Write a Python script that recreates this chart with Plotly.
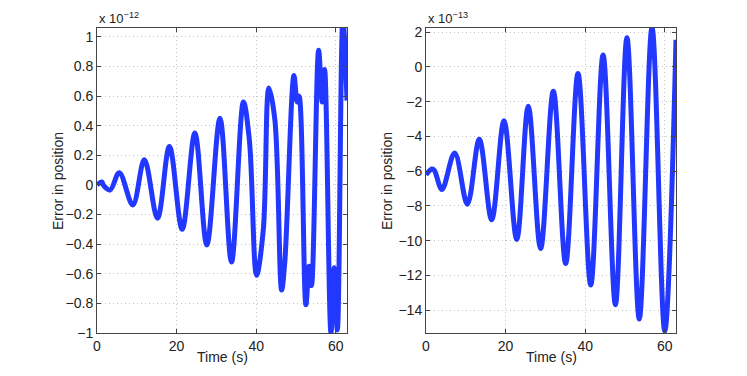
import plotly.graph_objects as go

# left panel: error in position (x 1e-12)
t_left = [0, 1.2, 1.7, 3.3, 5.6, 9.0, 11.9, 15.2, 18.2, 21.4, 24.6, 27.6, 30.9,
          33.8, 36.8, 38.3, 40.1, 41.8, 43.2, 44.7, 46.4, 47.2, 49.5, 50.3, 50.8,
          52.5, 53.3, 53.9, 55.7, 56.6, 57.2, 58.8, 59.6, 60.4, 61.8, 62.83]
err_left = [0, 0.02, -0.005, -0.034, 0.083, -0.135, 0.17, -0.225, 0.26, -0.30, 0.35,
            -0.405, 0.45, -0.52, 0.56, 0.30, -0.61, -0.30, 0.655, 0.44, -0.71, -0.52,
            0.74, 0.56, 0.60, -0.81, -0.55, -0.68, 0.91, 0.56, 0.78, -1.0, -0.56,
            -0.98, 1.12, 0.57]

# right panel: error in position (x 1e-13)
t_right = [0, 1.5, 2.1, 4.0, 7.2, 10.4, 13.4, 16.5, 19.6, 22.8, 25.7, 28.8, 32.0,
           35.1, 38.2, 41.4, 44.5, 47.6, 50.5, 53.6, 56.8, 60.0, 62.83]
err_right = [-6.2, -5.87, -5.95, -7.05, -4.96, -7.9, -4.17, -8.79, -3.1, -9.93,
             -2.27, -10.45, -1.4, -11.3, -0.38, -12.54, 0.68, -13.67, 1.67, -14.5,
             2.25, -15.2, 1.55]

x_ticks = [0, 20, 40, 60]
y_ticks_left = [-1, -0.8, -0.6, -0.4, -0.2, 0, 0.2, 0.4, 0.6, 0.8, 1]
y_ticks_right = [-14, -12, -10, -8, -6, -4, -2, 0, 2]

# the page body has an 8px margin, so the figure is shrunk by that much
OFF = 8
W, H = 747 - OFF, 376 - OFF

def px(x):
    return (x - OFF) / W

def py(y):
    return 1 - (y - OFF) / H

line_col = '#2238ff'
font = dict(family='Liberation Sans, Arial, sans-serif', size=14, color='#222')
small = dict(font, size=13)

fig = go.Figure()
fig.add_trace(go.Scatter(x=t_left, y=err_left, mode='lines', line_shape='spline',
                         line=dict(color=line_col, width=5), xaxis='x', yaxis='y',
                         showlegend=False))
fig.add_trace(go.Scatter(x=t_right, y=err_right, mode='lines', line_shape='spline',
                         line=dict(color=line_col, width=5), xaxis='x2', yaxis='y2',
                         showlegend=False))

ax = dict(showline=True, mirror='ticks', linecolor='#444', linewidth=1,
          ticks='inside', ticklen=4, tickcolor='#444', showgrid=True,
          gridcolor='#c4c4c4', griddash='1px,3px', gridwidth=1, zeroline=False,
          tickfont=font, automargin=False)

y0, y1 = py(333), py(28)
panels = [(97, 347), (426, 676)]
fig.update_layout(
    width=W, height=H, margin=dict(l=0, r=0, t=0, b=0),
    paper_bgcolor='white', plot_bgcolor='white', font=font,
    xaxis=dict(ax, domain=[px(97), px(347)], range=[0, 62.83], tickvals=x_ticks, anchor='y'),
    yaxis=dict(ax, domain=[y0, y1], range=[-1, 1.06], tickvals=y_ticks_left, anchor='x'),
    xaxis2=dict(ax, domain=[px(426), px(676)], range=[0, 62.83], tickvals=x_ticks, anchor='y2'),
    yaxis2=dict(ax, domain=[y0, y1], range=[-15.3, 2.23], tickvals=y_ticks_right, anchor='x2'),
)

# axis titles and exponent labels, placed like the matlab figure
for (xl, xr), expo in zip(panels, ['\u221212', '\u221213']):
    fig.add_annotation(text='x 10<sup>%s</sup>' % expo, xref='paper', yref='paper',
                       x=px(xl), y=y1, xanchor='left', yanchor='bottom',
                       showarrow=False, font=small)
    fig.add_annotation(text='Time (s)', xref='paper', yref='paper',
                       x=px((xl + xr) / 2), y=py(357), xanchor='center',
                       yanchor='middle', showarrow=False, font=font)
    fig.add_annotation(text='Error in position', xref='paper', yref='paper',
                       x=px(xl - 39), y=py(181), xanchor='center',
                       yanchor='middle', textangle=-90, showarrow=False, font=font)

fig.write_html("out.html")
